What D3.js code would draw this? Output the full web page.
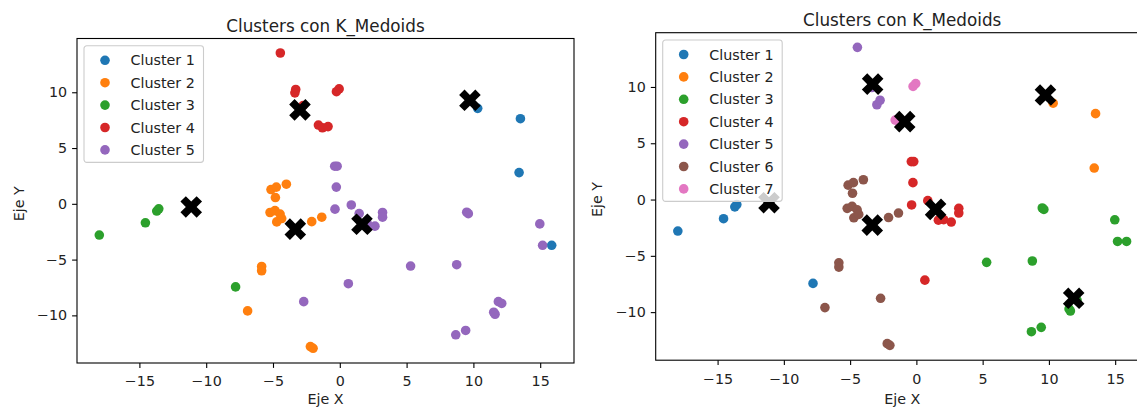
<!DOCTYPE html>
<html lang="es">
<head>
  <meta charset="UTF-8">
  <title>Clusters con K_Medoids</title>
  <style>
    body { margin: 0; background: #fff; }
    text { font-family: "DejaVu Sans", sans-serif; fill: #222; }
  </style>
</head>
<body>
  <script src="https://d3js.org/d3.v7.min.js"></script>
  <script>

    // same points, two clusterings (k=5 and k=7)
    const xs = [-18.0, -14.55, -13.7, -13.55, -7.8, -11.12,
      -5.15, -4.75, -4.0, -4.82, -5.22, -4.85, -4.47, -4.72, -4.35, -3.33,
      -2.1, -1.35, -5.85, -5.85, -6.9, -2.2, -2.0,
      -2.7, -0.38, -0.2, -0.26, -0.36, 0.86, 1.45, 1.66, 2.06, 2.63,
      3.2, 3.2, 0.64, 5.3, 8.75, 9.5, 9.62, 14.97, 15.18,
      11.87, 12.12, 11.52, 11.62, 8.68, 9.42,
      15.86, 13.42, 13.52, 10.32, 9.74,
      -4.45, -3.3, -3.36, -2.98, -2.74, -0.05, -0.25, -1.6, -1.3, -0.88];
    const ys = [-2.8, -1.7, -0.65, -0.45, -7.45, -0.28,
      1.28, 1.5, 1.76, 0.56, -0.78, -0.61, -0.92, -1.62, -1.32, -2.27,
      -1.6, -1.2, -5.62, -6.0, -9.6, -12.8, -12.95,
      -8.77, 3.37, 3.37, 1.5, -0.48, -0.1, -0.87, -1.83, -1.78, -2.0,
      -0.78, -1.2, -7.16, -5.58, -5.46, -0.75, -0.88, -1.8, -3.72,
      -8.77, -8.93, -9.72, -9.9, -11.74, -11.35,
      -3.72, 2.8, 7.63, 8.56, 9.28,
      13.52, 10.25, 9.95, 8.42, 8.82, 10.3, 10.05, 7.06, 6.82, 6.92];

    const clustersK5 = [3, 3, 3, 3, 3, 3,
      2, 2, 2, 2, 2, 2, 2, 2, 2, 2,
      2, 2, 2, 2, 2, 2, 2,
      5, 5, 5, 5, 5, 5, 5, 5, 5, 5,
      5, 5, 5, 5, 5, 5, 5, 5, 5,
      5, 5, 5, 5, 5, 5,
      1, 1, 1, 1, 1,
      4, 4, 4, 4, 4, 4, 4, 4, 4, 4];
    const clustersK7 = [1, 1, 1, 1, 1, 1,
      6, 6, 6, 6, 6, 6, 6, 6, 6, 6,
      6, 6, 6, 6, 6, 6, 6,
      6, 4, 4, 4, 4, 4, 4, 4, 4, 4,
      4, 4, 4, 3, 3, 3, 3, 3, 3,
      3, 3, 3, 3, 3, 3,
      3, 2, 2, 2, 2,
      5, 5, 5, 5, 5, 7, 7, 7, 7, 7];

    // medoids are data points -> indices into xs / ys
    const medoidsK5 = [52, 15, 5, 56, 30];
    const medoidsK7 = [5, 52, 42, 29, 54, 15, 62];

    const xTicks = [-15, -10, -5, 0, 5, 10, 15];
    const yTicks = [-10, -5, 0, 5, 10];

    const colors = d3.schemeCategory10;

    const W = 1137, H = 409;
    const svg = d3.select('body')
      .append('svg')
      .attr('width', W)
      .attr('height', H);

    const panels = [
      { left: 77, top: 38.5, width: 497, height: 324.5, k: 5, clusters: clustersK5, medoids: medoidsK5 },
      { left: 655.7, top: 32.7, width: 493, height: 327.5, k: 7, clusters: clustersK7, medoids: medoidsK7 },
    ];

    // matplotlib 'X' marker outline
    const xMarker = [[-1, -2], [0, -1], [1, -2], [2, -1], [1, 0], [2, 1],
      [1, 2], [0, 1], [-1, 2], [-2, 1], [-1, 0], [-2, -1]];
    const xSize = 5.4;
    const xPath = 'M' + xMarker.map(p => [p[0] * xSize, p[1] * xSize].join(',')).join('L') + 'Z';

    panels.forEach(p => {
      const x = d3.scaleLinear().domain([-19.67, 17.53]).range([p.left, p.left + p.width]);
      const y = d3.scaleLinear().domain([-14.27, 14.82]).range([p.top + p.height, p.top]);
      const g = svg.append('g');

      // axes
      const gx = g.append('g')
        .attr('transform', `translate(0,${p.top + p.height})`)
        .call(d3.axisBottom(x).tickValues(xTicks).tickSize(4.9).tickPadding(5)
          .tickFormat(d => d < 0 ? '\u2212' + Math.abs(d) : d));
      const gy = g.append('g')
        .attr('transform', `translate(${p.left},0)`)
        .call(d3.axisLeft(y).tickValues(yTicks).tickSize(4.9).tickPadding(5)
          .tickFormat(d => d < 0 ? '\u2212' + Math.abs(d) : d));
      [gx, gy].forEach(a => {
        a.select('.domain').remove();
        a.selectAll('line').attr('stroke', '#000').attr('stroke-width', 1.1);
        a.selectAll('text').attr('font-size', 14.3)
          .attr('font-family', '"DejaVu Sans", sans-serif').attr('fill', '#222');
      });
      gx.selectAll('text').attr('dy', '0.95em');

      // points, cluster by cluster
      for (let c = 1; c <= p.k; c++) {
        const idx = d3.range(xs.length).filter(i => p.clusters[i] === c);
        g.append('g').selectAll('circle')
          .data(idx)
          .join('circle')
          .attr('cx', i => x(xs[i]))
          .attr('cy', i => y(ys[i]))
          .attr('r', 4.8)
          .attr('fill', colors[c - 1]);
      }

      // medoids
      g.append('g').selectAll('path')
        .data(p.medoids)
        .join('path')
        .attr('d', xPath)
        .attr('transform', i => `translate(${x(xs[i])},${y(ys[i])})`)
        .attr('fill', '#000');

      // frame
      g.append('rect')
        .attr('x', p.left).attr('y', p.top)
        .attr('width', p.width).attr('height', p.height)
        .attr('fill', 'none').attr('stroke', '#000').attr('stroke-width', 1.1);

      // titles
      const cx = p.left + p.width / 2;
      g.append('text').attr('x', cx).attr('y', p.top - 6.5)
        .attr('text-anchor', 'middle').attr('font-size', 16.8)
        .text('Clusters con K_Medoids');
      g.append('text').attr('x', cx).attr('y', 404)
        .attr('text-anchor', 'middle').attr('font-size', 14.3)
        .text('Eje X');
      g.append('text')
        .attr('transform', `translate(${p.left - 53.5},${y(0)}) rotate(-90)`)
        .attr('text-anchor', 'middle').attr('font-size', 14.3)
        .text('Eje Y');

      // legend
      const lx = p.left + 7, ly = p.top + 7.3;
      const lh = 14.5 + (p.k - 1) * 22.4 + 12.5;
      const leg = g.append('g').attr('transform', `translate(${lx},${ly})`);
      leg.append('rect')
        .attr('width', 119.5).attr('height', lh).attr('rx', 2.8)
        .attr('fill', '#fff').attr('fill-opacity', 0.8)
        .attr('stroke', '#ccc').attr('stroke-width', 1.1);
      const items = leg.selectAll('g.item')
        .data(d3.range(1, p.k + 1))
        .join('g')
        .attr('class', 'item')
        .attr('transform', c => `translate(0,${14.5 + (c - 1) * 22.4})`);
      items.append('circle').attr('cx', 21).attr('r', 4.8).attr('fill', c => colors[c - 1]);
      items.append('text').attr('x', 46.5).attr('dy', '0.36em')
        .attr('font-size', 14.3).text(c => `Cluster ${c}`);
    });

  </script>
</body>
</html>
